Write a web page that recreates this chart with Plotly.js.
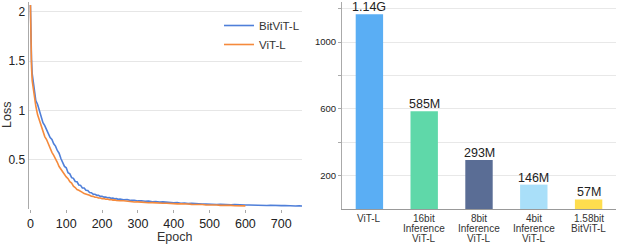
<!DOCTYPE html>
<html><head><meta charset="utf-8">
<script src="https://cdn.plot.ly/plotly-3.0.1.min.js"></script>
<style>html,body{margin:0;padding:0;background:#fff}#c{width:618px;height:244px}</style>
</head><body><div id="c"></div>
<script>
// ---- Left chart: training loss ----
const blueEpoch = [0,1,2,3,5,10,15,20,25,30,35,40,45,50,55,60,65,70,75,80,85,90,95,100,105,110,115,120,125,130,135,140,145,150,155,160,165,170,175,180,185,190,195,200,205,210,215,220,225,230,235,240,245,250,260,270,280,290,300,310,320,330,340,350,360,370,380,390,400,410,420,430,440,450,460,470,480,490,500,510,520,530,540,550,560,570,580,590,600,610,620,630,640,650,660,670,680,690,700,710,720,730,740,750,760];
const blueLoss = [2.07,1.80,1.62,1.51,1.37,1.22,1.10,1.06,0.99,0.945,0.875,0.845,0.795,0.765,0.725,0.705,0.662,0.638,0.594,0.566,0.512,0.478,0.432,0.418,0.368,0.356,0.318,0.311,0.279,0.276,0.244,0.240,0.214,0.213,0.190,0.188,0.167,0.165,0.151,0.150,0.139,0.138,0.128,0.129,0.120,0.122,0.114,0.116,0.108,0.110,0.103,0.105,0.098,0.101,0.094,0.095,0.087,0.088,0.082,0.084,0.078,0.080,0.074,0.076,0.070,0.072,0.067,0.069,0.063,0.065,0.059,0.061,0.055,0.057,0.052,0.054,0.049,0.050,0.047,0.048,0.045,0.047,0.044,0.045,0.043,0.044,0.041,0.043,0.040,0.041,0.039,0.040,0.038,0.039,0.036,0.038,0.035,0.036,0.034,0.036,0.032,0.034,0.031,0.033,0.030];
const orangeEpoch = [0,1,2,3,5,10,15,20,25,30,35,40,45,50,55,60,65,70,75,80,85,90,95,100,105,110,115,120,125,130,135,140,145,150,155,160,165,170,175,180,185,190,195,200,205,210,215,220,225,230,235,240,245,250,260,270,280,290,300,310,320,330,340,350,360,370,380,390,400,410,420,430,440,450,460,470,480,490,500,510,520,530,540,550,560,570,580,590,600];
const orangeLoss = [2.07,1.72,1.55,1.44,1.30,1.15,1.045,0.955,0.895,0.835,0.795,0.735,0.705,0.655,0.625,0.575,0.545,0.500,0.474,0.431,0.404,0.371,0.354,0.326,0.308,0.277,0.263,0.232,0.218,0.198,0.190,0.175,0.169,0.156,0.152,0.141,0.139,0.129,0.128,0.119,0.119,0.111,0.112,0.105,0.106,0.099,0.101,0.094,0.096,0.090,0.092,0.086,0.088,0.083,0.083,0.077,0.077,0.071,0.072,0.067,0.068,0.064,0.065,0.061,0.062,0.058,0.059,0.055,0.057,0.052,0.054,0.049,0.051,0.047,0.048,0.044,0.046,0.041,0.043,0.039,0.041,0.037,0.039,0.035,0.037,0.033,0.035,0.031,0.032];
const seriesNames = ['BitViT-L','ViT-L'];
const lossTicks = [0.5,1,1.5,2];
const lossTickText = ['0.5','1','1.5','2'];
const epochTicks = [0,100,200,300,400,500,600,700];

// ---- Right chart: model size ----
const models = ['ViT-L','16bit Inference ViT-L','8bit Inference ViT-L','4bit Inference ViT-L','1.58bit BitViT-L'];
const modelLabelLines = [['ViT-L'],['16bit','Inference','ViT-L'],['8bit','Inference','ViT-L'],['4bit','Inference','ViT-L'],['1.58bit','BitViT-L']];
const sizeMB = [1167,585,293,146,57];
const sizeText = ['1.14G','585M','293M','146M','57M'];
const sizeTicks = [200,400,600,800,1000,1200];
const sizeTickText = ['200','','600','','1000',''];
const barColors = ['#5aaef4','#5fd8a9','#5a6d95','#a9dff9','#fedd4e'];

const F = 'Liberation Sans, Arial, Helvetica, sans-serif';

const traces = [
  {x: blueEpoch, y: blueLoss, name: seriesNames[0], type:'scatter', mode:'lines',
   line:{color:'#4f7fd9', width:1.6}, xaxis:'x', yaxis:'y'},
  {x: orangeEpoch, y: orangeLoss, name: seriesNames[1], type:'scatter', mode:'lines',
   line:{color:'#f58a3c', width:1.6}, xaxis:'x', yaxis:'y'},
  {x: models, y: sizeMB, type:'bar', marker:{color: barColors},
   showlegend:false, xaxis:'x2', yaxis:'y2', hoverinfo:'none'}
];

const annotations = [
  {text:'Epoch', xref:'paper', yref:'paper', x:(174-29)/587, y:0, yshift:-28, showarrow:false,
   xanchor:'center', yanchor:'middle', font:{family:F, size:12.5, color:'#333'}},
  {text:'Loss', xref:'paper', yref:'paper', x:0, xshift:-22, y:(209-115)/207, textangle:-90, showarrow:false,
   xanchor:'center', yanchor:'middle', font:{family:F, size:12.5, color:'#333'}}
];
models.forEach((m, i) => {
  annotations.push({text: sizeText[i], xref:'x2', yref:'y2', x: m, y: sizeMB[i], yshift: 7,
    showarrow:false, xanchor:'center', yanchor:'middle', borderpad:0,
    font:{family:F, size:12.5, color:'#222'}});
});
modelLabelLines.forEach((lines, i) => {
  lines.forEach((ln, j) => {
    annotations.push({text: ln, xref:'x2', x: models[i], yref:'paper', y:0, yshift: -9 - 10*j,
      showarrow:false, xanchor:'center', yanchor:'middle', font:{family:F, size:10, color:'#333'}});
  });
});

const layout = {
  width:618, height:244, margin:{l:29, r:2, t:2, b:35},
  paper_bgcolor:'#fff', plot_bgcolor:'#fff',
  font:{family:F, color:'#222'},
  showlegend:true,
  legend:{x:(219-29)/587, y:1-(11-2)/207, xanchor:'left', yanchor:'top', bgcolor:'rgba(0,0,0,0)',
    font:{family:F, size:11.5, color:'#333'}, itemwidth:30, tracegroupgap:0},
  xaxis:{domain:[0,(302-29)/587], range:[-4,758], tickvals:epochTicks, ticks:'outside', ticklen:3,
    tickcolor:'#aaa', showgrid:false, zeroline:false, showline:false,
    tickfont:{family:F, size:12.5, color:'#222'}},
  yaxis:{domain:[0,1], range:[0,2.1], tickvals:lossTicks, ticktext:lossTickText, showgrid:true,
    gridcolor:'#e6e6e6', zeroline:false, showline:true, linecolor:'#aaa', linewidth:1.5, ticks:'',
    tickfont:{family:F, size:12, color:'#222'}},
  xaxis2:{domain:[(342-29)/587,1], type:'category', range:[-0.5,4.5], showticklabels:false, ticks:'',
    showline:true, linecolor:'#999', linewidth:1, showgrid:false, zeroline:false, anchor:'y2'},
  yaxis2:{domain:[0,1], range:[0,1240], tickvals:sizeTicks, ticktext:sizeTickText, ticks:'outside',
    ticklen:3, tickcolor:'#aaa', showgrid:true, gridcolor:'#e8e8e8', zeroline:false, showline:true,
    linecolor:'#aaa', linewidth:1, anchor:'x2', tickfont:{family:F, size:9.5, color:'#222'}},
  bargap:0.5,
  annotations: annotations
};

Plotly.newPlot('c', traces, layout, {staticPlot:true, displayModeBar:false});
</script>
</body></html>
